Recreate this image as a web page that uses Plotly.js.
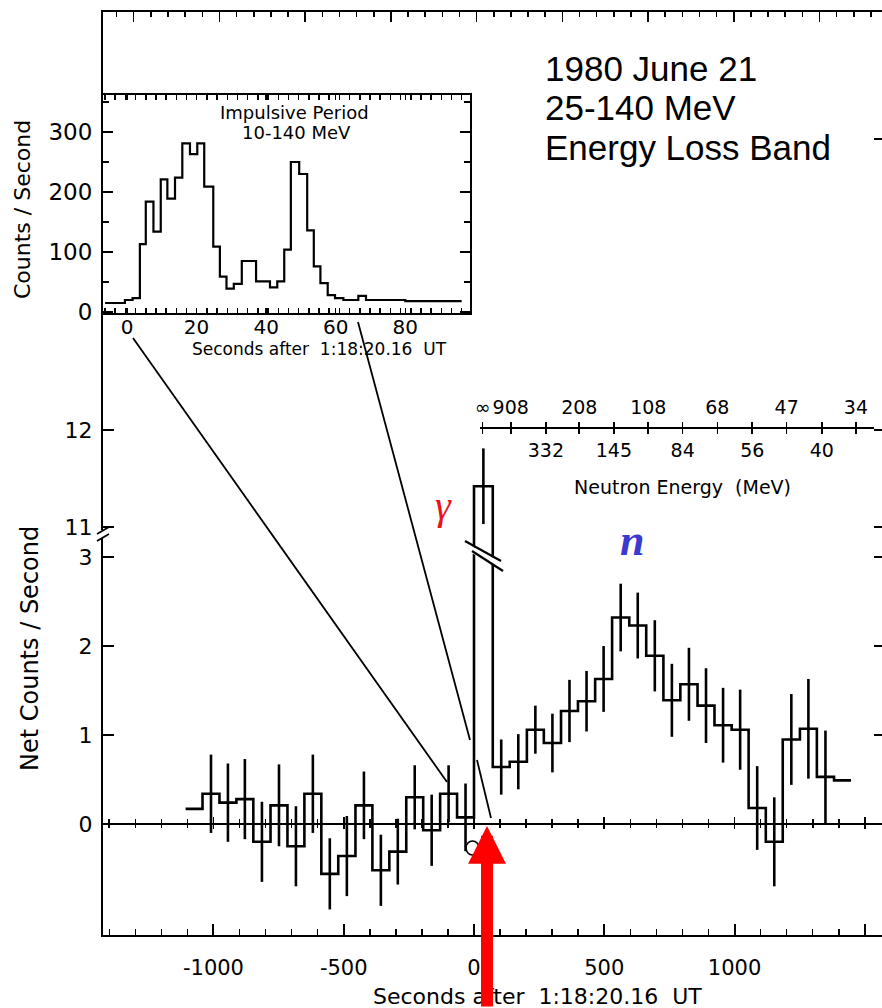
<!DOCTYPE html>
<html><head><meta charset="utf-8">
<script src="https://cdn.plot.ly/plotly-3.0.1.min.js"></script>
<style>html,body{margin:0;padding:0;background:#fff}</style>
</head><body><div id="chart" style="width:882px;height:1008px"></div>
<script>
// ---- data ----
const binEdges = [-1107,-1042,-977,-912,-847,-781,-716,-651,-586,-521,-455,-390,-325,-260,-195,-130,-65,0,
  72,137,203,268,334,399,465,530,596,661,727,792,858,923,989,1054,1120,1185,1251,1316,1382,1447];
const netRate = [0.17,0.34,0.24,0.28,-0.20,0.21,-0.25,0.34,-0.56,-0.36,0.21,-0.52,-0.31,0.30,-0.07,0.34,0.075,
  11.42,
  0.64,0.70,1.06,0.91,1.27,1.38,1.63,2.32,2.23,1.89,1.39,1.57,1.33,1.11,1.06,0.18,-0.20,0.95,1.07,0.53,0.49];
const netErr = [null,0.44,0.44,0.45,0.45,0.46,0.45,0.44,0.40,0.45,0.38,0.40,0.37,0.36,0.40,0.32,0.38,
  0.39,
  0.31,0.31,0.27,0.33,0.35,0.34,0.37,0.38,0.37,0.40,0.41,0.41,0.42,0.42,0.45,0.47,0.50,0.51,0.56,0.52,null];

const insetTime = [-6.3,-0.6,1.6,3.7,5.4,7.6,9.7,11.6,13.8,15.9,18.1,20.2,22.2,24.8,26.7,28.6,30.7,33.0,37.1,41.1,
  43.2,45.2,47.1,49.5,51.8,53.7,55.6,57.7,59.8,62.2,66.5,68.7,70.8,80.0,96.2];
const insetRate = [15,20,23,113,184,134,221,189,224,281,263,281,209,109,59,39,47,85,51,41,
  51,104,250,230,136,76,48,28,23,20,27,20,20,18,18];

const energyTickSec = [33,141,276,404,537,669,801,934,1068,1200,1335,1466];
const energyLabels = ['∞','908','332','208','145','108','84','68','56','47','40','34'];

const xTickVals = [-1000,-500,0,500,1000,1500];
const xTickText = ['-1000','-500','0','500','1000',''];
const yLowTicks = [0,1,2,3];
const yUpTicks = [11,12];
const insetXTicks = [0,20,40,60,80];
const insetYTicks = [0,100,200,300];

// ---- geometry ----
const W=882,H=1008,L=103,R=0,T=12,B=73;
const plotW=W-L-R, plotH=H-T-B;
const px=p=>(p-L)/plotW, py=p=>(H-B-p)/plotH;
const xRange=[-1424,1566];
const split=py(545);
const FONT='DejaVu Sans';
const black='#000';

// derived arrays
const rateExt = netRate.concat([netRate[netRate.length-1]]);
const ctr=[],cy=[],ce=[];
for(let i=0;i<netRate.length;i++){ if(netErr[i]!=null){ ctr.push((binEdges[i]+binEdges[i+1])/2); cy.push(netRate[i]); ce.push(netErr[i]); } }
const topLab = energyLabels.map((l,i)=> (i===0||i%2===1)?l:'');
const botLab = energyLabels.map((l,i)=> (i>0&&i%2===0)?l:'');

const stepLine={shape:'hv',color:black,width:2.6};
const errStyle={type:'data',array:ce,visible:true,thickness:2.6,width:0,color:black};
const noMark={size:1,color:'rgba(0,0,0,0)',line:{width:0}};
const dummy=(xa,ya)=>({x:[0],y:[null],xaxis:xa,yaxis:ya,mode:'markers',marker:noMark,showlegend:false,hoverinfo:'skip'});

const traces=[
  {x:binEdges,y:rateExt,xaxis:'x',yaxis:'y',mode:'lines',line:stepLine,hoverinfo:'skip'},
  {x:binEdges,y:rateExt,xaxis:'x',yaxis:'y2',mode:'lines',line:stepLine,hoverinfo:'skip'},
  {x:ctr,y:cy,xaxis:'x',yaxis:'y',mode:'markers',marker:noMark,error_y:errStyle,hoverinfo:'skip'},
  {x:ctr,y:cy,xaxis:'x',yaxis:'y2',mode:'markers',marker:noMark,error_y:errStyle,hoverinfo:'skip'},
  {x:insetTime,y:insetRate,xaxis:'x3',yaxis:'y3',mode:'lines',line:{shape:'hv',color:black,width:2.2},hoverinfo:'skip'},
  dummy('x2','y2'),dummy('x4','y'),dummy('x5','y'),dummy('x6','y2'),dummy('x7','y2'),dummy('x','y4'),dummy('x','y5')
];

const axBase={showgrid:false,zeroline:false,linecolor:black,tickcolor:black,fixedrange:true};
const eRange=[xRange[0]+px(480)*(xRange[1]-xRange[0]), xRange[0]+px(874)*(xRange[1]-xRange[0])];

const layout={
  width:W,height:H,margin:{l:L,r:R,t:T,b:B},showlegend:false,
  paper_bgcolor:'#fff',plot_bgcolor:'rgba(0,0,0,0)',
  font:{family:FONT,color:black},
  xaxis:Object.assign({},axBase,{domain:[0,1],range:xRange,anchor:'y',showline:true,linewidth:2,
    ticks:'inside',ticklen:11,tickwidth:2,tickmode:'array',tickvals:xTickVals,ticktext:xTickText,
    tickfont:{family:FONT,size:21},ticklabelstandoff:13,
    minor:{tickmode:'linear',tick0:0,dtick:100,ticks:'inside',ticklen:6,tickwidth:1.5,tickcolor:black}}),
  yaxis:Object.assign({},axBase,{domain:[0,split],range:[-1.247,3.135],anchor:'x',showline:true,linewidth:2,
    ticks:'inside',ticklen:11,tickwidth:2,tickmode:'array',tickvals:yLowTicks,tickfont:{family:FONT,size:22},ticklabelstandoff:4}),
  yaxis2:Object.assign({},axBase,{domain:[split,1],range:[10.814,16.31],anchor:'x',showline:true,linewidth:2,
    ticks:'inside',ticklen:11,tickwidth:2,tickmode:'array',tickvals:yUpTicks,tickfont:{family:FONT,size:22},ticklabelstandoff:4}),
  yaxis4:Object.assign({},axBase,{overlaying:'y',side:'right',range:[-1.247,3.135],anchor:'x',showline:false,
    ticks:'inside',ticklen:8,tickwidth:2,tickmode:'array',tickvals:yLowTicks,showticklabels:false}),
  yaxis5:Object.assign({},axBase,{overlaying:'y2',side:'right',range:[10.814,16.31],anchor:'x',showline:false,
    ticks:'inside',ticklen:8,tickwidth:2,tickmode:'array',tickvals:[11,12,15],showticklabels:false}),
  xaxis2:Object.assign({},axBase,{overlaying:'x',anchor:'y2',side:'top',range:xRange,showline:true,linewidth:2,
    ticks:'inside',ticklen:10,tickwidth:1.5,tickmode:'linear',tick0:10,dtick:329,showticklabels:false,
    minor:{tickmode:'linear',tick0:10,dtick:65.8,ticks:'inside',ticklen:5,tickwidth:1.5,tickcolor:black}}),
  xaxis4:Object.assign({},axBase,{overlaying:'x',anchor:'free',position:py(824),range:xRange,showline:true,linewidth:2,
    ticks:'inside',ticklen:6,tickwidth:1.6,tickmode:'array',tickvals:xTickVals,showticklabels:false,
    minor:{tickmode:'linear',tick0:0,dtick:100,ticks:'inside',ticklen:4,tickwidth:1.6,tickcolor:black}}),
  xaxis5:Object.assign({},axBase,{overlaying:'x',anchor:'free',position:py(824),range:xRange,showline:false,
    ticks:'outside',ticklen:4,tickwidth:1.6,tickmode:'array',tickvals:xTickVals,showticklabels:false,
    minor:{tickmode:'linear',tick0:0,dtick:100,ticks:'outside',ticklen:3,tickwidth:1.6,tickcolor:black}}),
  xaxis6:Object.assign({},axBase,{domain:[px(480),px(874)],anchor:'free',position:py(428),side:'top',range:eRange,
    showline:true,linewidth:2,ticks:'outside',ticklen:5,tickwidth:1.6,tickmode:'array',tickvals:energyTickSec,ticktext:topLab,
    tickfont:{family:FONT,size:19},ticklabelstandoff:0}),
  xaxis7:Object.assign({},axBase,{domain:[px(480),px(874)],anchor:'free',position:py(428),side:'bottom',range:eRange,
    showline:false,ticks:'outside',ticklen:5,tickwidth:1.6,tickmode:'array',tickvals:energyTickSec,ticktext:botLab,
    tickfont:{family:FONT,size:19},ticklabelstandoff:0}),
  xaxis3:Object.assign({},axBase,{domain:[0,px(470)],anchor:'y3',range:[-6.9,98.6],showline:true,linewidth:2,mirror:'allticks',
    ticks:'inside',ticklen:5,tickwidth:1.5,tickmode:'array',tickvals:insetXTicks,tickfont:{family:FONT,size:20},ticklabelstandoff:-5,
    minor:{tickmode:'linear',tick0:-3.4,dtick:2.93,ticks:'inside',ticklen:5,tickwidth:1.5,tickcolor:black}}),
  yaxis3:Object.assign({},axBase,{domain:[py(313),py(95)],anchor:'x3',range:[-1.7,361.7],showline:true,linewidth:2,mirror:'allticks',
    ticks:'inside',ticklen:10,tickwidth:1.6,tickmode:'array',tickvals:insetYTicks,tickfont:{family:FONT,size:23},ticklabelstandoff:4,
    minor:{tickmode:'linear',tick0:0,dtick:50,ticks:'inside',ticklen:6,tickwidth:1.5,tickcolor:black}})
};

const P=(x,y)=>`${px(x)},${py(y)}`;
const ln=(x0,y0,x1,y1,w)=>({type:'line',xref:'paper',yref:'paper',x0:px(x0),y0:py(y0),x1:px(x1),y1:py(y1),line:{color:black,width:w||1.8},layer:'above'});
layout.shapes=[
  ln(133,338,447,782,1.8),
  ln(358,322,470,740,1.8),
  ln(477,760,491,818,1.8),
  // gamma bar break
  {type:'path',xref:'paper',yref:'paper',layer:'above',path:`M${P(466,543)}L${P(503,563)}L${P(503,570)}L${P(466,550)}Z`,fillcolor:'#fff',line:{width:0}},
  ln(465,541,501,561,2.2),
  ln(472,551,503,571,2.2),
  // y-axis break
  {type:'rect',xref:'paper',yref:'paper',layer:'above',x0:px(99),x1:px(107),y0:py(530),y1:py(538),fillcolor:'#fff',line:{width:0}},
  ln(97,534,109,527,1.8),
  ln(97,541,109,534,1.8),
  // small circle near gamma bin
  {type:'circle',xref:'paper',yref:'paper',layer:'above',x0:px(466),x1:px(479),y0:py(841),y1:py(855),line:{color:black,width:1.6}}
];

const ann=(text,x,y,size,extra)=>Object.assign({text,xref:'paper',yref:'paper',x:px(x),y:py(y),showarrow:false,
  xanchor:'center',yanchor:'middle',font:{family:FONT,size,color:black}},extra||{});
const big={family:'Liberation Sans',size:35,color:black};
layout.annotations=[
  ann('1980 June 21',543,69,35,{xanchor:'left',font:big}),
  ann('25-140 MeV',543,107,35,{xanchor:'left',font:big}),
  ann('Energy Loss Band',543,148,35,{xanchor:'left',font:big}),
  ann('Impulsive Period',294,112,18),
  ann('10-140 MeV',296,133,18),
  ann('Counts / Second',23,210,22,{textangle:-90}),
  ann('Seconds after  1:18:20.16  UT',319,349,17),
  ann('Net Counts / Second',30,649,24,{textangle:-90}),
  ann('Neutron Energy  (MeV)',682,487,19),
  ann('Seconds after  1:18:20.16  UT',537,996,22),
  ann('<i>γ</i>',443,506,40,{font:{family:'Liberation Serif',size:40,color:'#e8141c'}}),
  ann('<b><i>n</i></b>',632,540,44,{font:{family:'Liberation Serif',size:44,color:'#3a3ad0'}}),
  {text:'',xref:'x',yref:'paper',x:50,y:py(826),showarrow:true,axref:'pixel',ayref:'pixel',ax:0,ay:200,
   arrowhead:2,arrowsize:0.63,arrowwidth:12,arrowcolor:'#ff0000',standoff:0}
];

Plotly.newPlot('chart',traces,layout,{staticPlot:true,displayModeBar:false});
</script></body></html>
